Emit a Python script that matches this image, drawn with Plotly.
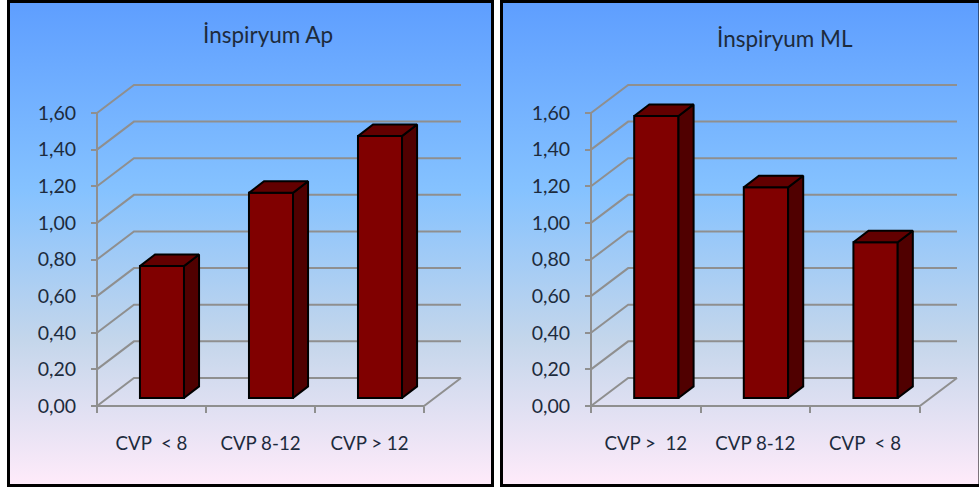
import base64
import plotly.graph_objects as go

# Bar heights per CVP group
categories_ap = ["CVP  < 8", "CVP 8-12", "CVP > 12"]
values_ap = [0.72, 1.12, 1.43]
categories_ml = ["CVP >  12", "CVP 8-12", "CVP  < 8"]
values_ml = [1.54, 1.15, 0.85]
y_ticks = [0.0, 0.2, 0.4, 0.6, 0.8, 1.0, 1.2, 1.4, 1.6]
titles = ["İnspiryum Ap", "İnspiryum ML"]

WIDTH, HEIGHT = 979, 490
FONT = "Lato"
TEXT = "#1d2b3d"
GRID = "#8f8f8f"
FRONT, SIDE, TOP = "#800000", "#500000", "#620000"

# Oblique projection of the chart box, in axis units
WALL_DX = 0.339
WALL_DY = 0.153
BAR_OFFSET_X = 0.394
BAR_WIDTH = 0.404
BAR_BASE = 0.044
BAR_DX = 0.138
BAR_DY = 0.063

# Spare room around the plot area so edge lines are not clipped: pixels and axis units
PAD = 2
X_UNIT = 109.0
Y_UNIT = 183.1

GRADIENT = """<svg xmlns='http://www.w3.org/2000/svg' width='10' height='100' preserveAspectRatio='none'>
<defs><linearGradient id='g' x1='0' y1='0' x2='0' y2='1'>
<stop offset='0' stop-color='#5E9EFF'/><stop offset='0.39' stop-color='#85C2FF'/>
<stop offset='0.70' stop-color='#C4D6EB'/><stop offset='1' stop-color='#FFEBFA'/>
</linearGradient></defs><rect width='10' height='100' fill='url(#g)'/></svg>"""
GRADIENT_URI = "data:image/svg+xml;base64," + base64.b64encode(GRADIENT.encode()).decode()


def px(x):
    return x / WIDTH


def py(y):
    return 1 - y / HEIGHT


panels = [
    dict(box=(8.5, 1.5, 492.5, 485.5), x0=97, x1=461, cats=categories_ap, vals=values_ap,
         title=titles[0], title_pos=(267.5, 35), suffix=""),
    dict(box=(501.5, 1.5, 980, 485.5), x0=591, x1=957, cats=categories_ml, vals=values_ml,
         title=titles[1], title_pos=(785, 39), suffix="2"),
]

fig = go.Figure()
images, shapes, annotations = [], [], []

for p in panels:
    xa, ya = "x" + p["suffix"], "y" + p["suffix"]
    left, top, right, bottom = p["box"]
    n = len(p["cats"])
    x_unit = (p["x1"] - p["x0"]) / (n + WALL_DX)

    # Panel background and frame
    images.append(dict(source=GRADIENT_URI, xref="paper", yref="paper", x=px(left), y=py(top),
                       sizex=px(right - left), sizey=(bottom - top) / HEIGHT, sizing="stretch",
                       xanchor="left", yanchor="top", layer="below"))
    shapes.append(dict(type="rect", xref="paper", yref="paper", x0=px(left), x1=px(right),
                       y0=py(top), y1=py(bottom), line=dict(color="black", width=3), layer="above"))

    # Gridlines run along the back wall and down the side wall to the front axis
    grid_line = dict(color=GRID, width=2)
    for v in y_ticks:
        path = f"M 0 {v} L {WALL_DX} {v + WALL_DY} L {n + WALL_DX} {v + WALL_DY}"
        shapes.append(dict(type="path", path=path, xref=xa, yref=ya, line=grid_line, layer="below"))
    floor = f"M 0 0 L {n} 0 L {n + WALL_DX} {WALL_DY}"
    shapes.append(dict(type="path", path=floor, xref=xa, yref=ya, line=grid_line, layer="below"))
    shapes.append(dict(type="line", x0=0, x1=0, y0=0, y1=y_ticks[-1], xref=xa, yref=ya,
                       line=grid_line, layer="below"))

    # Front faces of the columns
    centers = [i + BAR_OFFSET_X + BAR_WIDTH / 2 for i in range(n)]
    fig.add_trace(go.Bar(x=centers, y=p["vals"], base=BAR_BASE, width=BAR_WIDTH, xaxis=xa, yaxis=ya,
                         marker=dict(color=FRONT, line=dict(color="black", width=2)),
                         showlegend=False, hoverinfo="skip"))

    # Side and top faces of the columns
    for i, v in enumerate(p["vals"]):
        l = i + BAR_OFFSET_X
        r = l + BAR_WIDTH
        t = BAR_BASE + v
        fig.add_trace(go.Scatter(
            x=[r, r + BAR_DX, r + BAR_DX, r, r],
            y=[BAR_BASE, BAR_BASE + BAR_DY, t + BAR_DY, t, BAR_BASE],
            mode="lines", fill="toself", fillcolor=SIDE, line=dict(color="black", width=2),
            xaxis=xa, yaxis=ya, showlegend=False, hoverinfo="skip"))
        fig.add_trace(go.Scatter(
            x=[l, l + BAR_DX, r + BAR_DX, r, l],
            y=[t, t + BAR_DY, t + BAR_DY, t, t],
            mode="lines", fill="toself", fillcolor=TOP, line=dict(color="black", width=2),
            xaxis=xa, yaxis=ya, showlegend=False, hoverinfo="skip"))

    annotations.append(dict(text=p["title"], xref="paper", yref="paper", x=px(p["title_pos"][0]),
                            y=py(p["title_pos"][1]), showarrow=False, xanchor="center", yanchor="middle",
                            font=dict(family=FONT, size=22.5, color=TEXT)))

    # Axes sit at the front corner of the box, just inside the padded plot area
    axis_names = ("xaxis" + p["suffix"], "yaxis" + p["suffix"])
    fig.layout[axis_names[0]] = dict(
        domain=[px(p["x0"] - PAD), px(p["x1"] + PAD)],
        range=[-PAD / x_unit, n + WALL_DX + PAD / x_unit],
        anchor="free", position=py(406), automargin=False,
        tickmode="array", tickvals=[i + 0.5 for i in range(n)], ticktext=p["cats"],
        ticks="", ticklen=0, ticklabelstandoff=24, showgrid=False, zeroline=False, showline=False,
        tickfont=dict(family=FONT, size=18.7, color=TEXT),
        minor=dict(tickmode="array", tickvals=list(range(n + 1)), ticks="outside", ticklen=6,
                   tickwidth=2, tickcolor=GRID, showgrid=False))
    fig.layout[axis_names[1]] = dict(
        domain=[py(406 + PAD), py(85 - PAD)],
        range=[-PAD / Y_UNIT, y_ticks[-1] + WALL_DY + PAD / Y_UNIT],
        anchor="free", position=px(p["x0"]), automargin=False,
        tickmode="array", tickvals=y_ticks, ticktext=[f"{v:.2f}".replace(".", ",") for v in y_ticks],
        ticks="outside", ticklen=6, tickwidth=2, tickcolor=GRID, ticklabelstandoff=11,
        showgrid=False, zeroline=False, showline=False,
        tickfont=dict(family=FONT, size=19.5, color=TEXT))

fig.update_layout(width=WIDTH, height=HEIGHT, autosize=False, margin=dict(l=0, r=0, t=0, b=0),
                  paper_bgcolor="white", plot_bgcolor="rgba(0,0,0,0)", showlegend=False,
                  images=images, shapes=shapes, annotations=annotations)
fig.write_html("out.html", config=dict(displayModeBar=False))
